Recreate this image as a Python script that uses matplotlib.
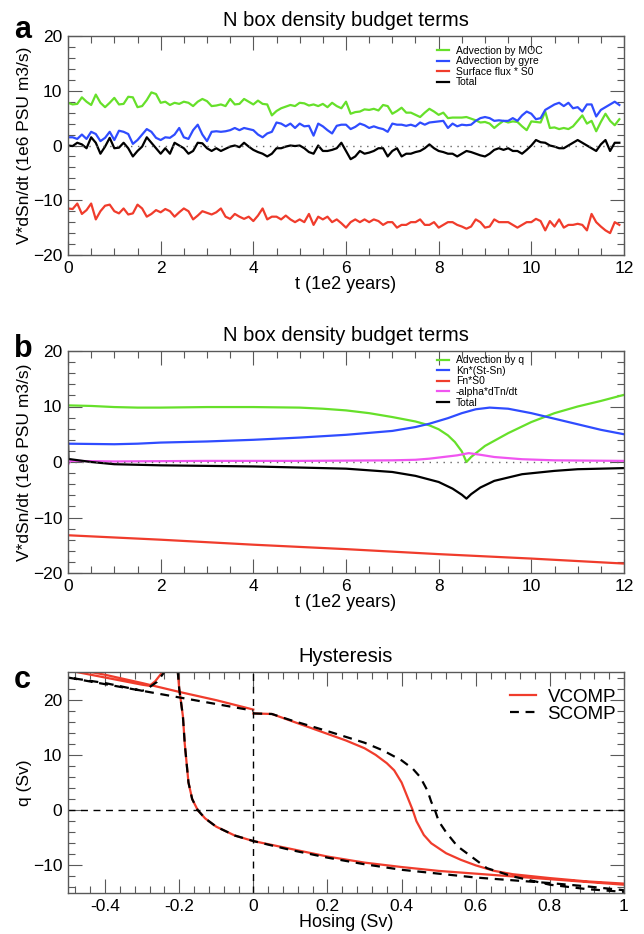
import numpy as np
import matplotlib
matplotlib.use('Agg')
import matplotlib.pyplot as plt
from matplotlib.ticker import MultipleLocator, AutoMinorLocator

plt.rcParams['font.family'] = ['Liberation Sans', 'DejaVu Sans']

# ---------------- panel a: noisy budget terms (t step 0.1, 0 .. 11.9)
t_a = np.arange(120) * 0.1
moc_a = [7.8, 7.5, 7.6, 8.8, 8.0, 7.4, 9.3, 7.8, 7.0, 7.8,
         8.7, 7.5, 7.6, 8.9, 8.8, 7.0, 7.2, 8.3, 9.7, 9.4,
         7.8, 8.0, 7.4, 7.8, 7.6, 8.0, 7.8, 7.2, 8.0, 8.5,
         8.1, 7.2, 7.3, 7.5, 7.2, 8.5, 7.5, 7.6, 8.5, 8.0,
         7.5, 8.2, 7.6, 7.5, 5.5, 6.3, 6.8, 7.1, 7.4, 7.2,
         7.8, 7.7, 7.3, 7.5, 7.2, 7.6, 7.0, 7.8, 7.2, 6.8,
         8.0, 5.8, 6.1, 6.2, 6.6, 6.5, 6.7, 6.4, 7.4, 7.2,
         5.8, 6.3, 6.9, 6.0, 6.0, 5.6, 5.2, 6.0, 6.7, 6.2,
         5.6, 6.0, 5.0, 5.1, 5.1, 5.1, 5.2, 4.9, 4.6, 4.2,
         4.3, 4.0, 3.2, 3.9, 4.5, 4.2, 4.4, 4.3, 3.5, 2.8,
         4.4, 4.3, 4.2, 6.2, 3.2, 3.3, 3.0, 3.2, 3.0, 3.5,
         4.5, 5.5, 4.0, 4.5, 2.6, 4.3, 5.8, 4.5, 3.7, 4.8]
gyre_a = [1.5, 1.5, 1.2, 2.0, 1.2, 2.5, 2.1, 0.8, 1.4, 2.5,
          1.0, 2.7, 2.5, 2.1, 0.3, 1.0, 2.0, 3.0, 2.5, 1.4,
          1.0, 1.5, 1.4, 2.0, 3.2, 1.5, 1.2, 2.8, 3.8, 2.0,
          0.8, 2.5, 2.6, 2.5, 2.6, 2.8, 3.2, 2.8, 3.2, 3.0,
          2.8, 2.0, 1.5, 2.2, 2.5, 4.2, 4.0, 3.5, 4.0, 3.2,
          4.0, 3.5, 3.6, 1.8, 4.0, 3.5, 2.8, 2.2, 3.6, 3.8,
          3.8, 3.0, 3.4, 4.0, 3.7, 3.2, 3.5, 3.2, 3.0, 2.5,
          4.0, 3.8, 3.8, 3.6, 3.8, 3.5, 4.2, 3.8, 4.2, 4.3,
          4.4, 4.5, 3.2, 4.0, 3.5, 3.8, 3.7, 3.8, 4.5, 5.0,
          5.2, 5.0, 4.5, 4.6, 4.5, 4.5, 5.0, 4.5, 5.5, 6.2,
          5.8, 4.8, 5.0, 6.5, 7.0, 7.5, 7.8, 7.2, 7.8, 6.8,
          7.0, 6.2, 7.5, 7.5, 5.3, 6.5, 7.0, 7.5, 8.0, 7.4]
surf_a = [-11.5, -11.6, -10.6, -12.5, -11.8, -10.6, -13.5, -12.0, -11.0, -10.8,
          -12.0, -12.4, -11.5, -12.6, -12.4, -10.8, -11.5, -13.0, -12.5, -11.8,
          -12.2, -11.6, -12.0, -13.0, -12.2, -11.5, -12.0, -13.5, -12.8, -12.0,
          -12.3, -12.6, -12.2, -11.5, -13.0, -13.4, -12.5, -13.0, -13.4, -13.0,
          -13.8, -12.8, -11.5, -13.5, -13.0, -13.0, -13.5, -12.8, -13.5, -14.0,
          -13.5, -14.0, -12.5, -14.5, -13.0, -13.5, -13.0, -14.0, -13.5, -14.2,
          -15.0, -14.0, -13.5, -14.0, -13.5, -14.0, -13.5, -13.8, -14.5, -14.0,
          -14.0, -15.0, -14.5, -14.5, -14.0, -14.0, -13.5, -14.5, -14.5, -14.0,
          -15.0, -14.5, -14.0, -14.0, -14.5, -14.8, -15.2, -14.8, -13.5, -14.0,
          -15.0, -14.8, -13.5, -14.0, -14.0, -14.0, -14.5, -15.0, -14.5, -14.0,
          -14.0, -13.4, -13.8, -15.5, -13.8, -14.8, -13.5, -15.0, -14.5, -14.5,
          -14.3, -14.5, -15.5, -12.5, -14.0, -14.8, -15.5, -16.0, -14.0, -14.5]
total_a = [0.0, -0.1, 0.5, 0.2, -0.5, 1.5, 0.5, -1.5, -0.2, 1.4,
           -0.5, -0.4, 0.5, -0.5, -2.0, -1.0, -0.2, 1.5, 0.5, -0.5,
           -1.5, -0.5, -1.5, 0.5, 0.0, -0.5, -1.5, -1.0, 0.5, 0.4,
           -0.5, -1.0, -0.5, -1.0, -0.6, -0.2, 0.0, -0.3, 0.5, -0.2,
           -0.8, -1.2, -1.5, -2.0, -1.5, -0.5, -0.5, -0.2, 0.0, -0.1,
           0.0, -0.5, -1.2, -1.5, 0.0, -1.0, -1.0, -0.8, -0.5, 0.5,
           -1.0, -2.5, -2.0, -1.0, -1.5, -1.3, -1.0, -0.5, -0.5, -2.0,
           -1.0, -0.5, -2.0, -1.5, -1.5, -1.2, -1.0, -0.5, 0.2, -0.5,
           -1.0, -1.2, -1.5, -1.5, -2.0, -1.5, -1.0, -1.2, -1.5, -1.8,
           -2.0, -1.5, -0.8, -0.5, -0.8, -0.5, -1.0, -1.0, -1.5, -0.8,
           0.0, 1.0, 0.6, 0.5, 0.0, -0.2, -0.5, -0.5, 0.0, 0.5,
           1.0, 0.5, 0.0, -0.5, -1.0, 0.2, 1.0, -1.0, 0.5, 0.5]
labels_a = ['Advection by MOC', 'Advection by gyre', 'Surface flux * S0', 'Total']

# ---------------- panel b: smooth budget terms
t_q = [0, 0.5, 1, 1.5, 2, 3, 4, 5, 5.5, 6, 6.5, 7, 7.5, 7.8, 8.0, 8.2, 8.35, 8.5, 8.6,
       8.7, 8.85, 9.0, 9.5, 10, 10.5, 11, 11.5, 12]
adv_q = [10.2, 10.1, 9.9, 9.8, 9.8, 9.9, 9.9, 9.8, 9.6, 9.3, 8.8, 8.1, 7.3, 6.6, 5.9, 4.8,
         3.6, 1.9, 0.0, 0.9, 1.9, 2.9, 5.2, 7.2, 8.8, 10.0, 11.0, 12.1]
t_k = [0, 1, 1.5, 2, 3, 4, 5, 6, 7, 7.5, 7.8, 8.2, 8.5, 8.8, 9.1, 9.5, 10, 10.5, 11, 11.5, 12]
kn = [3.3, 3.2, 3.3, 3.5, 3.7, 4.0, 4.4, 4.9, 5.6, 6.3, 6.9, 7.9, 8.8, 9.5, 9.8, 9.6, 8.8,
      7.8, 6.8, 5.8, 5.0]
t_f = [0, 2, 4, 6, 8, 10, 12]
fn = [-13.2, -14.0, -14.9, -15.7, -16.6, -17.4, -18.3]
t_m = [0, 0.05, 1, 3, 5, 7, 7.5, 7.8, 8.1, 8.4, 8.65, 8.9, 9.2, 9.8, 10.5, 12]
alpha_m = [-0.5, 0.2, 0.1, 0.2, 0.2, 0.3, 0.4, 0.6, 0.9, 1.2, 1.6, 1.3, 0.9, 0.5, 0.3, 0.2]
t_tot = [0, 0.01, 0.05, 0.5, 1, 2, 3, 4, 5, 6, 7, 7.5, 8.0, 8.3, 8.5, 8.6, 8.7, 8.9, 9.2,
         9.8, 10.5, 11, 12]
total_b = [3.5, 0.5, 0.5, 0.0, -0.4, -0.6, -0.7, -0.8, -1.0, -1.2, -1.8, -2.5, -3.6, -4.8,
           -5.9, -6.6, -5.8, -4.6, -3.4, -2.2, -1.6, -1.3, -1.1]
labels_b = ['Advection by q', 'Kn*(St-Sn)', 'Fn*S0', '-alpha*dTn/dt', 'Total']

# ---------------- panel c: hysteresis
h_v = [0, 0.05, 0.1, 0.15, 0.2, 0.25, 0.3, 0.33, 0.36, 0.38, 0.40, 0.415, 0.43, 0.44, 0.46,
       0.48, 0.52, 0.56, 0.6, 0.65, 0.7, 0.8, 0.9, 1.0,
       1.0, 0.9, 0.8, 0.7, 0.6, 0.5, 0.4, 0.3, 0.2, 0.1, 0, -0.05, -0.1, -0.13, -0.15,
       -0.165, -0.175, -0.185, -0.19, -0.2, -0.205, -0.23, -0.245, -0.265, -0.28, -0.3,
       -0.4, -0.5, -0.47, -0.4, -0.3, -0.2, -0.1, 0]
q_v = [17.5, 17.4, 16.2, 15.0, 13.8, 12.6, 11.2, 10.0, 8.5, 7.2, 5.0, 2.5, 0.0, -2.0, -4.5,
       -6.0, -7.8, -9.0, -10.0, -11.0, -11.6, -12.3, -12.9, -13.3,
       -13.5, -13.0, -12.5, -12.0, -11.5, -11.0, -10.3, -9.5, -8.4, -7.0, -5.6, -4.6, -3.0,
       -1.5, 0.0, 2.0, 5.0, 12.0, 17.0, 22.0, 26.0, 26.5, 25.0, 23.3, 22.5, 22.7,
       24.0, 25.3, 25.4, 24.5, 23.0, 21.4, 19.9, 18.2]
h_s = [0, 0.05, 0.1, 0.2, 0.3, 0.35, 0.4, 0.43, 0.45, 0.47, 0.48, 0.49, 0.5, 0.52, 0.55,
       0.6, 0.63, 0.7, 0.8, 0.9, 1.0,
       1.0, 0.9, 0.8, 0.7, 0.6, 0.5, 0.4, 0.3, 0.2, 0.1, 0, -0.05, -0.1, -0.13, -0.15,
       -0.165, -0.175, -0.185, -0.19, -0.2, -0.205, -0.215, -0.24, -0.26, -0.29, -0.3,
       -0.4, -0.5, -0.4, -0.3, -0.2, -0.1, 0]
q_s = [17.5, 17.4, 16.3, 14.3, 12.2, 10.8, 9.0, 7.5, 6.0, 3.5, 1.5, 0.0, -2.0, -4.0, -6.5,
       -9.0, -10.5, -12.0, -13.5, -14.3, -14.8,
       -14.5, -13.8, -13.2, -12.7, -12.2, -11.5, -10.8, -9.8, -8.6, -7.2, -5.6, -4.6, -3.0,
       -1.5, 0.0, 2.0, 5.0, 12.0, 17.0, 22.0, 26.0, 27.0, 25.0, 23.2, 21.8, 21.6,
       23.0, 24.0, 22.8, 21.6, 20.4, 19.2, 18.0]


def style_axes(ax, xmaj, xmin_n, ymaj, ymin_n):
    ax.xaxis.set_major_locator(MultipleLocator(xmaj))
    ax.xaxis.set_minor_locator(AutoMinorLocator(xmin_n))
    ax.yaxis.set_major_locator(MultipleLocator(ymaj))
    ax.yaxis.set_minor_locator(AutoMinorLocator(ymin_n))
    ax.tick_params(which='both', direction='in', top=True, right=True,
                   labelsize=12.5, color='0.35', width=0.8)
    ax.tick_params(which='major', length=10, pad=4)
    ax.tick_params(which='minor', length=5)
    for s in ax.spines.values():
        s.set_color('0.35')
        s.set_linewidth(1.0)


fig = plt.figure(figsize=(6.44, 9.34), dpi=100)
W, H = 644.0, 934.0
left, right = 68, 624
ylab_x = (32 - left) / (right - left)

green = '#66e02a'
blue = '#2f4cff'
red = '#f03c2c'
magenta = '#f055f0'

# panel a
ax1 = fig.add_axes([left / W, 1 - 255 / H, (right - left) / W, (255 - 36) / H])
ax1.plot(t_a, moc_a, color=green, lw=1.6, label=labels_a[0])
ax1.plot(t_a, gyre_a, color=blue, lw=1.6, label=labels_a[1])
ax1.plot(t_a, surf_a, color=red, lw=1.6, label=labels_a[2])
ax1.plot(t_a, total_a, color='black', lw=1.6, label=labels_a[3])
ax1.axhline(0, color='0.4', lw=1.0, ls=(0, (1, 4)))
ax1.set_xlim(0, 12)
ax1.set_ylim(-20, 20)
style_axes(ax1, 2, 4, 10, 5)
ax1.set_title('N box density budget terms', fontsize=14.5, pad=7)
ax1.set_xlabel('t (1e2 years)', fontsize=13, labelpad=0)
ax1.set_ylabel('V*dSn/dt (1e6 PSU m3/s)', fontsize=12.5)
ax1.yaxis.set_label_coords(ylab_x, 0.5)
ax1.legend(loc='upper left', bbox_to_anchor=(0.664, 0.955), frameon=False, fontsize=7.5,
           handlelength=1.1, handletextpad=0.7, labelspacing=0.05, borderpad=0,
           borderaxespad=0)

# panel b
ax2 = fig.add_axes([left / W, 1 - 573 / H, (right - left) / W, (573 - 351) / H])
ax2.plot(t_q, adv_q, color=green, lw=1.6, label=labels_b[0])
ax2.plot(t_k, kn, color=blue, lw=1.6, label=labels_b[1])
ax2.plot(t_f, fn, color=red, lw=1.6, label=labels_b[2])
ax2.plot(t_m, alpha_m, color=magenta, lw=1.6, label=labels_b[3])
ax2.plot(t_tot, total_b, color='black', lw=1.6, label=labels_b[4])
ax2.axhline(0, color='0.4', lw=1.0, ls=(0, (1, 4)))
ax2.set_xlim(0, 12)
ax2.set_ylim(-20, 20)
style_axes(ax2, 2, 4, 10, 5)
ax2.set_title('N box density budget terms', fontsize=14.5, pad=7)
ax2.set_xlabel('t (1e2 years)', fontsize=13, labelpad=0)
ax2.set_ylabel('V*dSn/dt (1e6 PSU m3/s)', fontsize=12.5)
ax2.yaxis.set_label_coords(ylab_x, 0.5)
ax2.legend(loc='upper left', bbox_to_anchor=(0.664, 0.98), frameon=False, fontsize=7.5,
           handlelength=1.1, handletextpad=0.7, labelspacing=0.05, borderpad=0,
           borderaxespad=0)

# panel c
ax3 = fig.add_axes([left / W, 1 - 893 / H, (right - left) / W, (893 - 672) / H])
ax3.plot(h_v, q_v, color=red, lw=1.6, label='VCOMP')
ax3.plot(h_s, q_s, color='black', lw=1.6, ls=(0, (4, 3)), label='SCOMP')
ax3.axhline(0, color='black', lw=1.0, ls=(0, (5, 4)))
ax3.axvline(0, color='black', lw=1.0, ls=(0, (5, 4)))
ax3.set_xlim(-0.5, 1)
ax3.set_ylim(-15, 25)
style_axes(ax3, 0.2, 5, 10, 5)
ax3.set_xticks([-0.4, -0.2, 0, 0.2, 0.4, 0.6, 0.8, 1.0])
ax3.set_xticklabels(['-0.4', '-0.2', '0', '0.2', '0.4', '0.6', '0.8', '1'])
ax3.set_title('Hysteresis', fontsize=14.5, pad=7)
ax3.set_xlabel('Hosing (Sv)', fontsize=13, labelpad=0)
ax3.set_ylabel('q (Sv)', fontsize=12.5)
ax3.yaxis.set_label_coords(ylab_x, 0.5)
ax3.legend(loc='upper left', bbox_to_anchor=(0.795, 0.925), frameon=False, fontsize=13.5,
           handlelength=1.4, handletextpad=0.6, labelspacing=0.0, borderpad=0,
           borderaxespad=0)

for txt, y in [('a', 38), ('b', 357), ('c', 688)]:
    fig.text(14 / W, 1 - y / H, txt, fontsize=22, fontweight='bold', va='baseline')

fig.savefig('out.png', dpi=100)
